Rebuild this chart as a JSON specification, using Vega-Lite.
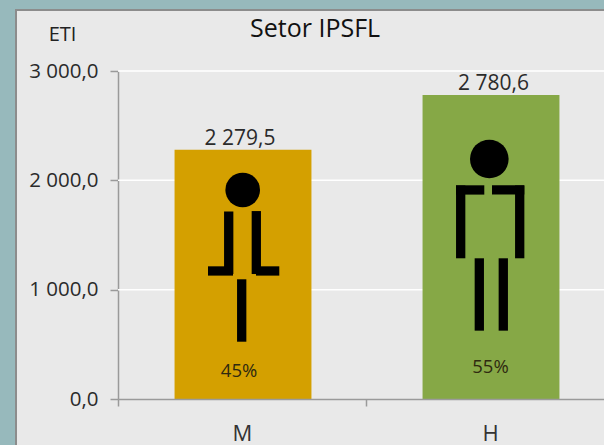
{
"$schema":"https://vega.github.io/schema/vega-lite/v6.json",
"width":592,"height":439,
"autosize":"none",
"padding":{"left":16,"top":10,"right":-4,"bottom":-4},
"background":"#97b9bc",
"config":{"font":"Open Sans","view":{"fill":"#e9e9e9","stroke":"#8c8c8c","strokeWidth":2}},
"title":{"text":"Setor IPSFL","font":"Open Sans","fontSize":25,"fontWeight":"normal","color":"#111111","anchor":"start","frame":"group","dx":234,"offset":-32},
"datasets":{
"bars":[{"group":"M","eti":2279.5,"label":"2 279,5","u":0.492,"pct":"45%","pu":0.488,"py":256},{"group":"H","eti":2780.6,"label":"2 780,6","u":1.514,"pct":"55%","pu":1.502,"py":293}],
"grid":[{"v":1000,"a":0,"b":2},{"v":2000,"a":0,"b":2},{"v":3000,"a":0,"b":2}],
"segs":[
{"x":0.4464,"x2":0.4464,"y":1715,"y2":1143},{"x":0.5577,"x2":0.5577,"y":1719,"y2":1143},{"x":0.3629,"x2":0.4637,"y":1171,"y2":1171},{"x":0.5565,"x2":0.6504,"y":1171,"y2":1171},{"x":0.4988,"x2":0.4988,"y":1095,"y2":524},
{"x":1.3629,"x2":1.477,"y":1912,"y2":1912},{"x":1.5081,"x2":1.6383,"y":1912,"y2":1912},{"x":1.3818,"x2":1.3818,"y":1953,"y2":1287},{"x":1.6198,"x2":1.6198,"y":1953,"y2":1287},{"x":1.4569,"x2":1.4569,"y":1287,"y2":625},{"x":1.5536,"x2":1.5536,"y":1287,"y2":625}],
"heads":[{"group":"M","u":0.5028,"v":1912},{"group":"H","u":1.4972,"v":2195}]
},
"resolve":{"scale":{"x":"independent"},"axis":{"x":"independent"}},
"layer":[
{"data":{"name":"grid"},"mark":{"type":"rule","color":"#ffffff","strokeWidth":1.5},
 "encoding":{"x":{"field":"a","type":"quantitative","axis":null,"scale":{"domain":[0,2],"range":[102,598]}},"x2":{"field":"b"},
 "y":{"field":"v","type":"quantitative","scale":{"domain":[0,3000],"range":[389,61],"nice":false},
  "axis":{"values":[0,1000,2000,3000],"grid":false,"offset":-102,"tickSize":8,"labelPadding":12,"labelFontSize":20.5,"labelColor":"#2b2b2b","labelFont":"Open Sans","domainColor":"#9a9a9a","tickColor":"#9a9a9a","domainWidth":1.5,"tickWidth":1.5,
  "labelExpr":"replace(replace(format(datum.value,',.1f'),',',' '),'.',',')",
  "title":"ETI","titleAngle":0,"titleFont":"Open Sans","titleFontSize":20,"titleFontWeight":"normal","titleColor":"#222222","titleAnchor":"start","titleAlign":"center","titleBaseline":"middle","titleX":-56,"titleY":24}}}},
{"data":{"name":"bars"},"mark":{"type":"bar","width":{"band":0.552},"xOffset":1},
 "encoding":{"x":{"field":"group","type":"nominal","sort":["M","H"],"scale":{"domain":["M","H"],"range":[102,598],"paddingInner":0,"paddingOuter":0},
  "axis":{"title":null,"offset":-50,"tickBand":"extent","tickSize":7,"labelAngle":0,"labelPadding":17,"labelFontSize":22,"labelColor":"#333333","labelFont":"Open Sans","domainColor":"#9a9a9a","tickColor":"#9a9a9a","domainWidth":1.5,"tickWidth":1.5,"grid":false,"zindex":1}},
 "y":{"field":"eti","type":"quantitative"},
 "color":{"field":"group","type":"nominal","scale":{"domain":["M","H"],"range":["#d4a000","#86a846"]},"legend":null}}},
{"data":{"name":"bars"},"mark":{"type":"text","fontSize":21,"color":"#2b2b2b","baseline":"bottom","dy":-1},
 "encoding":{"x":{"field":"u","type":"quantitative","axis":null,"scale":{"domain":[0,2],"range":[102,598]}},"y":{"field":"eti","type":"quantitative"},"text":{"field":"label"}}},
{"data":{"name":"bars"},"mark":{"type":"text","fontSize":18.5,"color":"#2f2a10","baseline":"middle"},
 "encoding":{"x":{"field":"pu","type":"quantitative","axis":null,"scale":{"domain":[0,2],"range":[102,598]}},"y":{"field":"py","type":"quantitative"},"text":{"field":"pct"}}},
{"data":{"name":"segs"},"mark":{"type":"rule","color":"#000000","strokeWidth":9.3},
 "encoding":{"x":{"field":"x","type":"quantitative","axis":null,"scale":{"domain":[0,2],"range":[102,598]}},"x2":{"field":"x2"},"y":{"field":"y","type":"quantitative"},"y2":{"field":"y2"}}},
{"data":{"name":"heads"},"mark":{"type":"point","filled":true,"opacity":1,"color":"#000000","shape":"circle"},
 "encoding":{"x":{"field":"u","type":"quantitative","axis":null,"scale":{"domain":[0,2],"range":[102,598]}},"y":{"field":"v","type":"quantitative"},
 "size":{"field":"group","type":"nominal","scale":{"domain":["M","H"],"range":[1200,1490]},"legend":null}}}
]
}
